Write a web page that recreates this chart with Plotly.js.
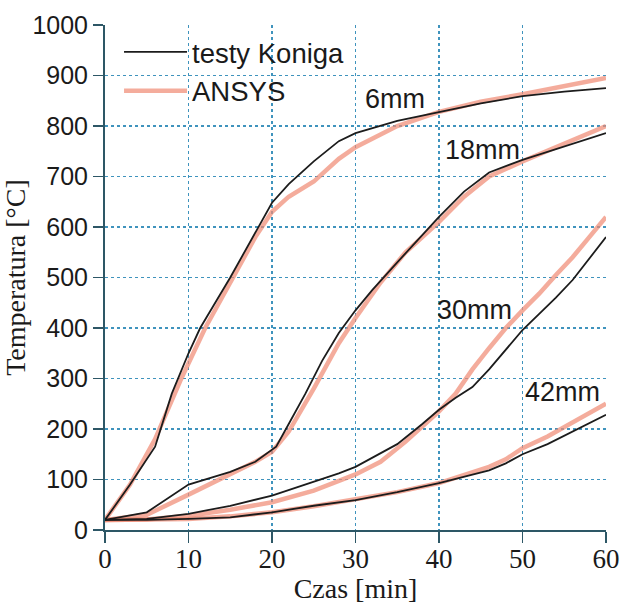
<!DOCTYPE html>
<html>
<head>
<meta charset="utf-8">
<script src="https://cdn.plot.ly/plotly-3.0.1.min.js"></script>
<style>
html,body{margin:0;padding:0;background:#fff;}
#chart{width:626px;height:604px;}
</style>
</head>
<body>
<div id="chart"></div>
<script>
// Time [min] and temperature [°C]
const t6k   = [0, 3, 6, 8, 10, 11.4, 15, 18, 20, 22, 25, 28, 30, 35, 40, 45, 50, 55, 60];
const T6k   = [20, 90, 165, 270, 350, 400, 500, 590, 648, 685, 730, 770, 786, 810, 828, 845, 859, 868, 875];
const t6a   = [0, 3, 6, 9, 12, 15, 18, 20, 22, 25, 28, 30, 35, 40, 45, 50, 55, 60];
const T6a   = [20, 90, 180, 295, 400, 490, 580, 630, 660, 690, 735, 758, 800, 828, 848, 863, 880, 895];

const t18k  = [0, 5, 10, 12, 15, 18, 20.5, 22, 24, 26, 28, 30, 32, 35, 38, 40, 43, 46, 50, 55, 60];
const T18k  = [20, 35, 90, 100, 115, 135, 165, 210, 270, 335, 390, 435, 475, 530, 585, 620, 670, 708, 733, 760, 786];
const t18a  = [0, 5, 10, 15, 18, 20, 22, 25, 28, 30, 33, 36, 40, 43, 46, 50, 55, 60];
const T18a  = [20, 30, 70, 110, 135, 155, 195, 280, 370, 420, 490, 550, 610, 660, 700, 730, 765, 800];

const t30k  = [0, 5, 10, 15, 20, 25, 28, 30, 32, 35, 38, 40, 42, 44, 46, 48, 50, 52, 54, 56, 58, 60];
const T30k  = [20, 22, 32, 48, 68, 95, 112, 125, 143, 170, 210, 238, 262, 283, 318, 357, 396, 428, 460, 495, 538, 580];
const t30a  = [0, 5, 10, 15, 20, 25, 30, 33, 36, 38, 40, 42, 44, 46, 48, 50, 52, 54, 56, 58, 60];
const T30a  = [20, 21, 28, 40, 55, 78, 110, 135, 175, 205, 235, 270, 318, 360, 400, 435, 468, 505, 540, 580, 620];

const t42k  = [0, 5, 10, 15, 20, 25, 30, 35, 40, 43, 46, 48, 50, 53, 56, 60];
const T42k  = [20, 20, 22, 25, 35, 48, 59, 75, 93, 105, 118, 132, 150, 170, 195, 228];
const t42a  = [0, 5, 10, 15, 20, 25, 30, 35, 40, 43, 46, 48, 50, 53, 56, 60];
const T42a  = [20, 20, 22, 27, 35, 47, 60, 75, 93, 108, 125, 140, 162, 185, 212, 250];

const seriesNames = ['testy Koniga', 'ANSYS'];
const curveLabels = ['6mm', '18mm', '30mm', '42mm'];
const xTicks = [0, 10, 20, 30, 40, 50, 60];
const yTicks = [0, 100, 200, 300, 400, 500, 600, 700, 800, 900, 1000];

const kColor = '#1c1c1c';
const aColor = 'rgba(240,140,118,0.72)';

function ansys(x, y, show) {
  return {x: x, y: y, type: 'scatter', mode: 'lines', name: seriesNames[1],
    legendgroup: 'a', showlegend: show, legendrank: 2,
    line: {color: aColor, width: 4.5}, hoverinfo: 'skip'};
}
function koniga(x, y, show) {
  return {x: x, y: y, type: 'scatter', mode: 'lines', name: seriesNames[0],
    legendgroup: 'k', showlegend: show, legendrank: 1,
    line: {color: kColor, width: 1.8}, hoverinfo: 'skip'};
}

const data = [
  ansys(t6a, T6a, true), ansys(t18a, T18a, false), ansys(t30a, T30a, false), ansys(t42a, T42a, false),
  koniga(t6k, T6k, true), koniga(t18k, T18k, false), koniga(t30k, T30k, false), koniga(t42k, T42k, false)
];

const labelFont = {family: 'Liberation Sans, Arial, sans-serif', size: 27, color: '#1a1a1a'};
const gridColor = '#3f93bd';
const axisColor = '#2d5766';

const layout = {
  width: 626, height: 604,
  margin: {l: 105, r: 20, t: 25, b: 74},
  paper_bgcolor: '#ffffff', plot_bgcolor: '#ffffff',
  showlegend: true,
  legend: {x: 0.028, y: 0.995, xanchor: 'left', yanchor: 'top', bgcolor: 'rgba(0,0,0,0)',
    borderwidth: 0, itemwidth: 63, tracegroupgap: 0,
    font: {family: 'Liberation Sans, Arial, sans-serif', size: 27.5, color: '#1a1a1a'}},
  xaxis: {range: [0, 60], tickvals: xTicks, ticktext: xTicks.map(String),
    showgrid: true, gridcolor: gridColor, griddash: 'dot', gridwidth: 1.6,
    zeroline: false, showline: true, linecolor: axisColor, linewidth: 2,
    ticks: 'outside', ticklen: 11, tickcolor: axisColor, tickwidth: 1.5,
    ticklabelstandoff: -7,
    tickfont: {family: 'Liberation Serif, Times New Roman, serif', size: 27, color: '#1a1a1a'},
    title: {text: 'Czas [min]', standoff: 0,
      font: {family: 'Liberation Serif, Times New Roman, serif', size: 28, color: '#1a1a1a'}}},
  yaxis: {range: [0, 1000], tickvals: yTicks, ticktext: yTicks.map(String),
    showgrid: true, gridcolor: gridColor, griddash: 'dot', gridwidth: 1.6,
    zeroline: false, showline: true, linecolor: axisColor, linewidth: 2,
    ticks: 'outside', ticklen: 10, tickcolor: axisColor, tickwidth: 1.5,
    tickfont: {family: 'Liberation Sans, Arial, sans-serif', size: 25, color: '#1a1a1a'},
    title: {text: 'Temperatura [°C]', standoff: 0,
      font: {family: 'Liberation Serif, Times New Roman, serif', size: 28, color: '#1a1a1a'}}},
  annotations: [
    {x: 34.7, y: 853, text: curveLabels[0], showarrow: false, font: labelFont},
    {x: 45.2, y: 752, text: curveLabels[1], showarrow: false, font: labelFont},
    {x: 44.3, y: 436, text: curveLabels[2], showarrow: false, font: labelFont},
    {x: 54.8, y: 273, text: curveLabels[3], showarrow: false, font: labelFont}
  ]
};

Plotly.newPlot('chart', data, layout, {displayModeBar: false, staticPlot: true});
</script>
</body>
</html>
